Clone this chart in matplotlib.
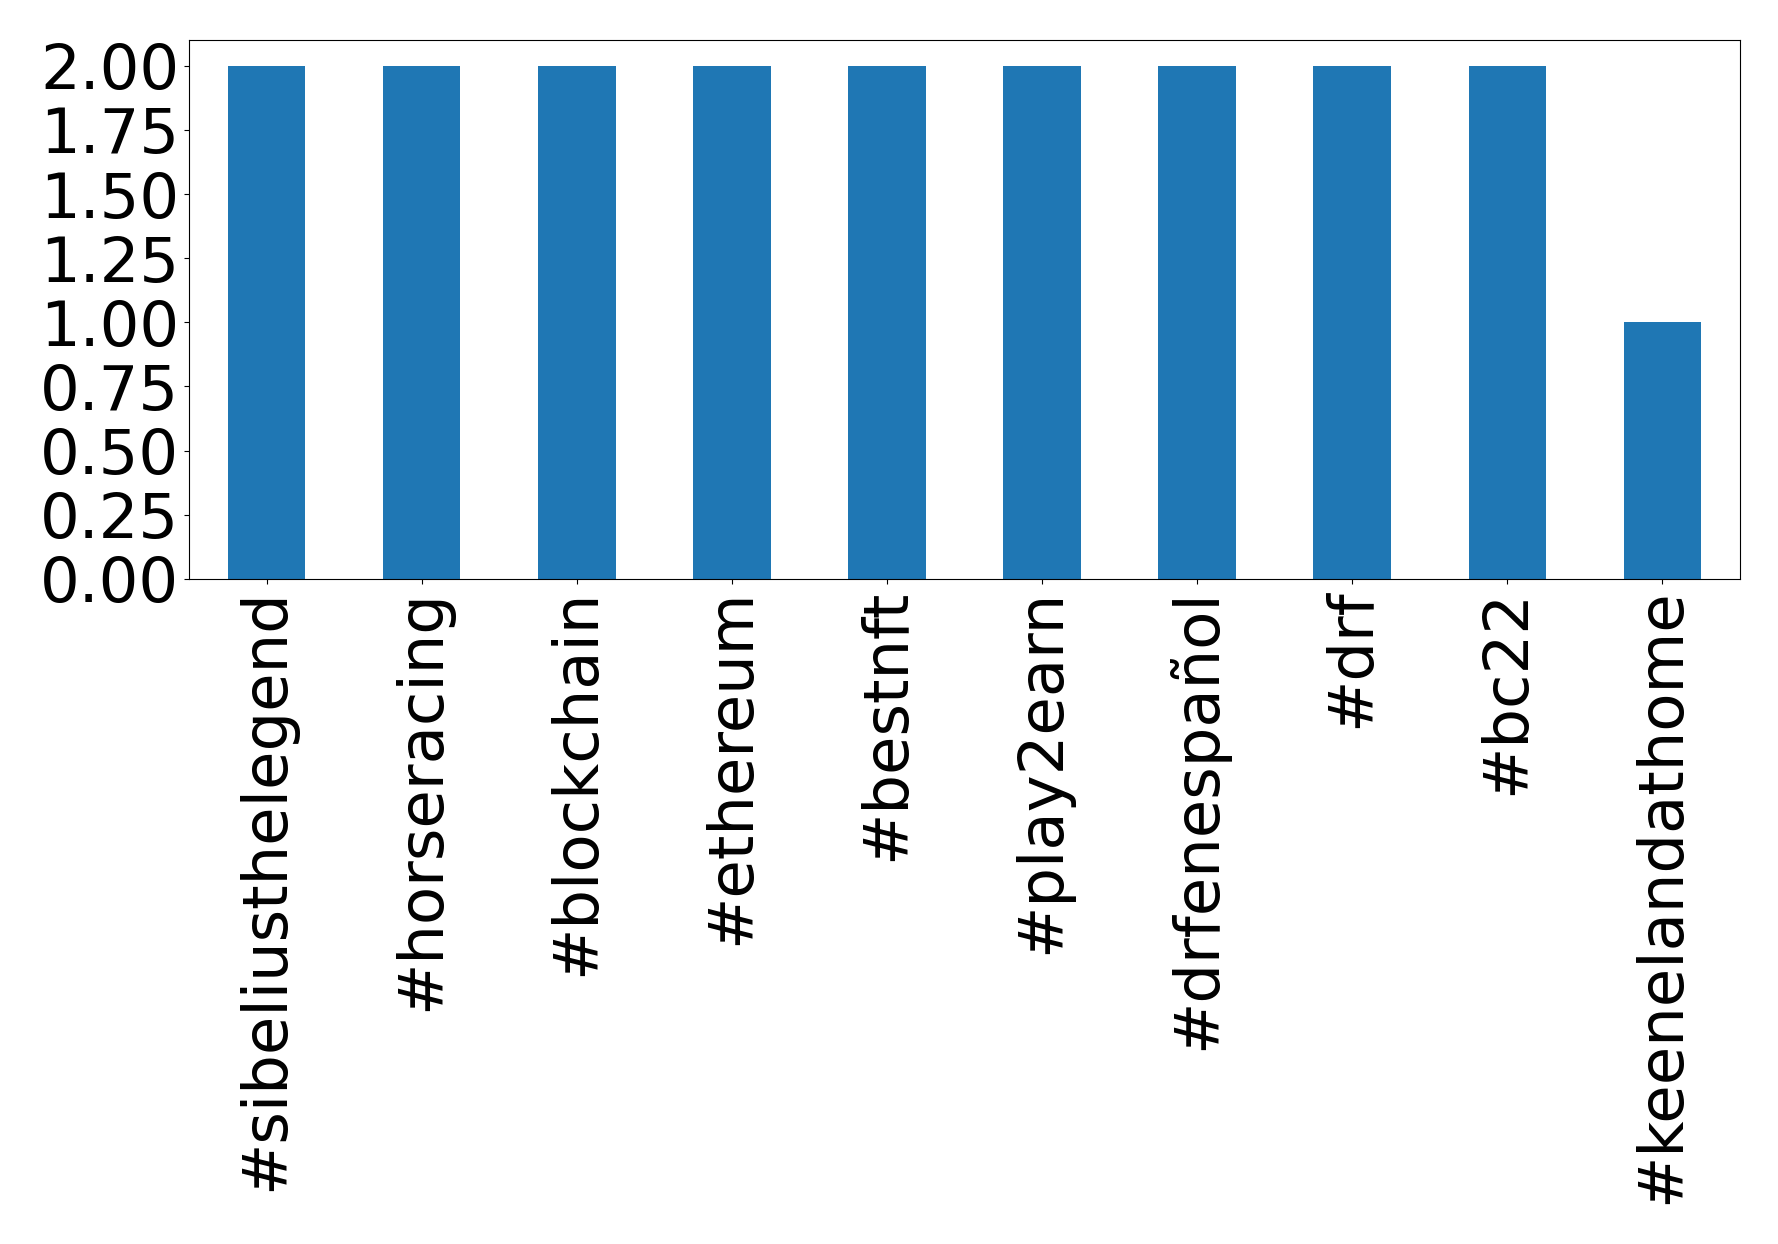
import matplotlib
matplotlib.use('Agg')
import matplotlib.pyplot as plt
import numpy as np

# hashtags y número de apariciones
hashtags = ['#sibeliusthelegend', '#horseracing', '#blockchain', '#ethereum',
            '#bestnft', '#play2earn', '#drfenespañol', '#drf', '#bc22',
            '#keenelandathome']
counts = [2, 2, 2, 2, 2, 2, 2, 2, 2, 1]

fig = plt.figure(figsize=(17.78, 12.44), dpi=100)
ax = fig.add_subplot(111)
fig.subplots_adjust(left=0.1063, right=0.9786, top=0.9678, bottom=0.5346)

x = np.arange(len(hashtags))
ax.bar(x, counts, width=0.5, color='#1f77b4')
ax.set_xlim(-0.5, len(hashtags) - 0.5)
ax.set_ylim(0, 2.1)
ax.set_yticks(np.arange(0, 2.01, 0.25))
ax.set_yticklabels([f'{v:.2f}' for v in np.arange(0, 2.01, 0.25)])
ax.set_xticks(x)
ax.set_xticklabels(hashtags, rotation=90)
ax.tick_params(labelsize=45)

fig.savefig('out.png', dpi=100)
